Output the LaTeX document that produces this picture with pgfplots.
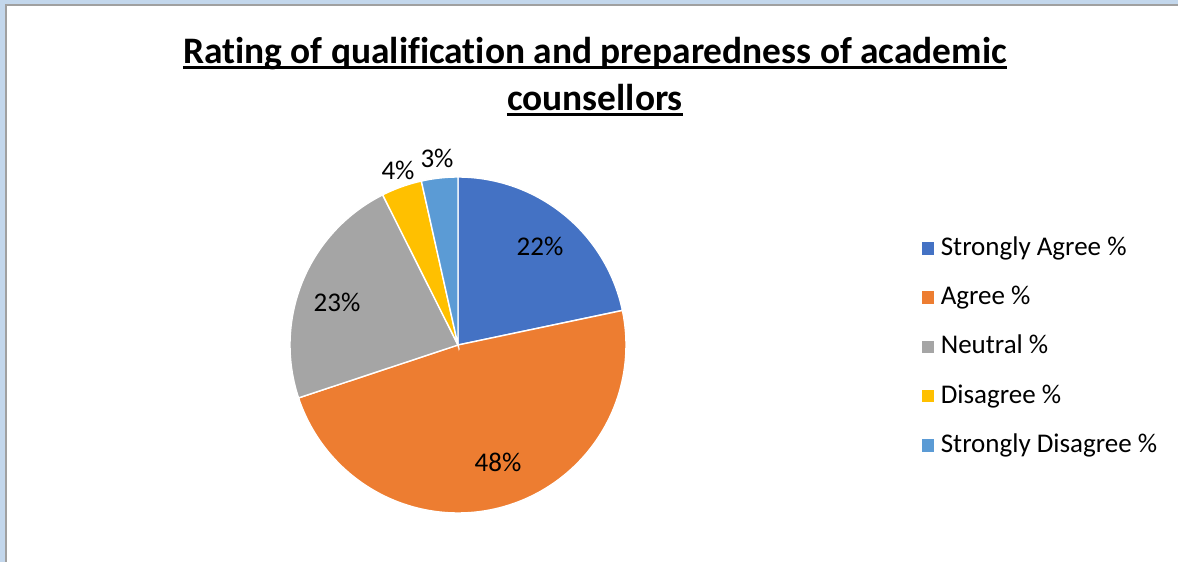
\documentclass[border=0pt]{standalone}
\usepackage{fontspec}
\setmainfont{Carlito}[Ligatures=NoCommon]
\usepackage{pgfplots}
\pgfplotsset{compat=1.18}
\definecolor{cBlue}{HTML}{4472C4}
\definecolor{cOrange}{HTML}{ED7D31}
\definecolor{cGray}{HTML}{A5A5A5}
\definecolor{cYellow}{HTML}{FFC000}
\definecolor{cLBlue}{HTML}{5B9BD5}
\definecolor{frameBlue}{HTML}{C3D7EC}
\definecolor{frameGray}{HTML}{A0A0A0}
\begin{document}
\begin{tikzpicture}
% slice values (percent), clockwise from 12 o'clock
\def\vA{21.7}\def\vB{48.2}\def\vC{22.7}\def\vD{3.9}\def\vE{3.5}
\pgfmathsetmacro\aA{90}
\pgfmathsetmacro\aB{\aA-3.6*\vA}
\pgfmathsetmacro\aC{\aB-3.6*\vB}
\pgfmathsetmacro\aD{\aC-3.6*\vC}
\pgfmathsetmacro\aE{\aD-3.6*\vD}
\pgfmathsetmacro\aF{\aE-3.6*\vE}
\begin{axis}[
  scale only axis, width=589pt, height=281pt,
  xmin=0, xmax=1178, ymin=0, ymax=562, y dir=reverse,
  hide axis, clip=false,
  legend cell align=left,
  legend style={draw=none, fill=none, at={(axis cs:920,233)}, anchor=north west,
    font=\fontsize{13.5}{15}\selectfont, row sep=9.6pt, inner sep=0pt,
    nodes={inner ysep=1pt, inner xsep=2.5pt, text height=10pt, text depth=3pt}},
  legend image code/.code={\fill[#1] (0pt,-3.5pt) rectangle (7pt,3.5pt);},
]
% frame
\fill[frameBlue] (axis cs:0,0) rectangle (axis cs:1178,562);
\fill[frameGray] (axis cs:5,4) rectangle (axis cs:1178,562);
\fill[white] (axis cs:7,6) rectangle (axis cs:1178,562);
% pie slices
\addplot[fill=cBlue, draw=white, line width=0.7pt, domain=\aB:\aA, samples=60, variable=\t]
  ({458+168*cos(t)},{345-168*sin(t)}) -- (axis cs:458,345) -- cycle;
\addplot[fill=cOrange, draw=white, line width=0.7pt, domain=\aC:\aB, samples=100, variable=\t]
  ({458+168*cos(t)},{345-168*sin(t)}) -- (axis cs:458,345) -- cycle;
\addplot[fill=cGray, draw=white, line width=0.7pt, domain=\aD:\aC, samples=60, variable=\t]
  ({458+168*cos(t)},{345-168*sin(t)}) -- (axis cs:458,345) -- cycle;
\addplot[fill=cYellow, draw=white, line width=0.7pt, domain=\aE:\aD, samples=20, variable=\t]
  ({458+168*cos(t)},{345-168*sin(t)}) -- (axis cs:458,345) -- cycle;
\addplot[fill=cLBlue, draw=white, line width=0.7pt, domain=\aF:\aE, samples=20, variable=\t]
  ({458+168*cos(t)},{345-168*sin(t)}) -- (axis cs:458,345) -- cycle;
\legend{Strongly Agree \%, Agree \%, Neutral \%, Disagree \%, Strongly Disagree \%}
% data labels
\node[font=\fontsize{13.5}{15}\selectfont] at (axis cs:540,246) {22\%};
\node[font=\fontsize{13.5}{15}\selectfont] at (axis cs:498,462) {48\%};
\node[font=\fontsize{13.5}{15}\selectfont] at (axis cs:337,302) {23\%};
\node[font=\fontsize{13.5}{15}\selectfont] at (axis cs:398,170) {4\%};
\node[font=\fontsize{13.5}{15}\selectfont] at (axis cs:437,158) {3\%};
% title
\node[anchor=base, inner sep=0pt, font=\bfseries\fontsize{18.7}{22}\selectfont] (t1) at (axis cs:595,63)
  {Rating of qualification and preparedness of academic};
\draw[line width=1.2pt] ([yshift=-2.2pt]t1.base west) -- ([yshift=-2.2pt]t1.base east);
\node[anchor=base, inner sep=0pt, font=\bfseries\fontsize{18.7}{22}\selectfont] (t2) at (axis cs:595,110)
  {counsellors};
\draw[line width=1.2pt] ([yshift=-2.2pt]t2.base west) -- ([yshift=-2.2pt]t2.base east);
\end{axis}
\end{tikzpicture}
\end{document}
